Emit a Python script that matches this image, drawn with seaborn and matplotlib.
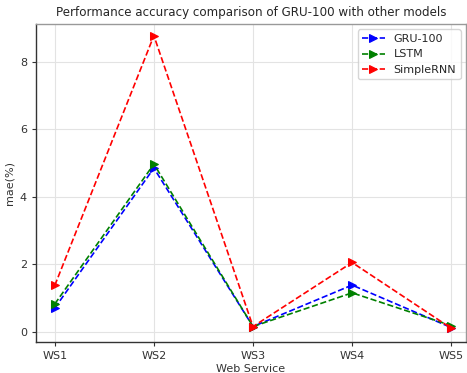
import matplotlib
matplotlib.use("Agg")
import matplotlib.pyplot as plt
import seaborn as sns
import pandas as pd

services = ["WS1", "WS2", "WS3", "WS4", "WS5"]
gru = [0.70, 4.85, 0.15, 1.38, 0.12]
lstm = [0.82, 4.97, 0.15, 1.15, 0.18]
rnn = [1.37, 8.78, 0.15, 2.05, 0.10]
series = {"GRU-100": gru, "LSTM": lstm, "SimpleRNN": rnn}
colors = {"GRU-100": "blue", "LSTM": "green", "SimpleRNN": "red"}

sns.set_style("whitegrid", {"grid.color": "#e3e3e3", "axes.edgecolor": "#333333",
                            "xtick.bottom": True, "ytick.left": True})
plt.rcParams["font.family"] = ["DejaVu Sans"]

fig = plt.figure(figsize=(4.67, 3.73), dpi=100)
ax = fig.add_axes([0.077, 0.083, 0.921, 0.853])

rows = []
for name, vals in series.items():
    for i, v in enumerate(vals):
        rows.append({"x": i, "val": v, "model": name})
df = pd.DataFrame(rows)

for name in series:
    d = df[df.model == name]
    sns.lineplot(data=d, x="x", y="val", ax=ax, color=colors[name], linestyle="--",
                 marker=">", markersize=5.5, markeredgecolor=colors[name], label=name,
                 linewidth=1.2)

ax.set_xticks(range(len(services)))
ax.set_xticklabels(services, fontsize=8, color="#333333")
ax.set_yticks([0, 2, 4, 6, 8])
ax.tick_params(axis="y", labelsize=8, length=3, color="#333333", labelcolor="#333333")
ax.tick_params(axis="x", length=3, color="#333333")
ax.set_xlim(-0.19, 4.15)
ax.set_ylim(-0.31, 9.13)
ax.set_xlabel("Web Service", fontsize=8, labelpad=2, color="#333333")
ax.set_ylabel("mae(%)", fontsize=8, color="#333333")
ax.set_title("Performance accuracy comparison of GRU-100 with other models", fontsize=8.6)
for s in ax.spines.values():
    s.set_linewidth(1.0)
ax.spines["top"].set_color("#999999")
ax.spines["right"].set_color("#999999")
ax.legend(loc="upper right", fontsize=8, frameon=True, handlelength=2)
fig.savefig("out.png", dpi=100)
